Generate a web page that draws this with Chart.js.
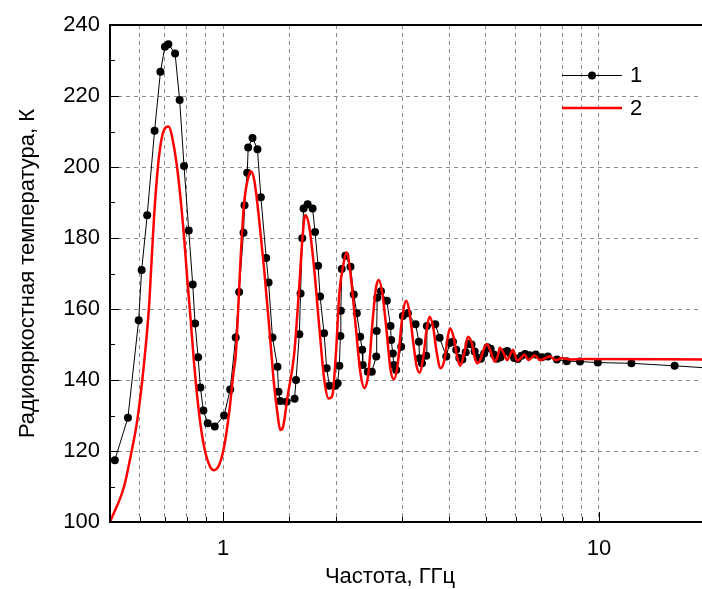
<!DOCTYPE html>
<html><head><meta charset="utf-8">
<script src="https://cdn.jsdelivr.net/npm/chart.js@4/dist/chart.umd.min.js"></script>
<style>html,body{margin:0;padding:0;background:#fff;}#wrap{width:702px;height:589px;position:relative;}</style>
</head><body><div id="wrap"><canvas id="c"></canvas></div>
<script>
// Series 1 (measured, black dots)
const freq1 = [0.515,0.558,0.596,0.607,0.628,0.657,0.681,0.700,0.715,0.745,0.766,0.787,0.810,0.830,0.842,0.858,0.870,0.886,0.910,0.950,
1.006,1.044,1.080,1.103,1.133,1.140,1.159,1.166,1.197,1.234,1.260,1.302,1.321,1.353,1.395,1.404,1.419,1.475,1.549,1.563,
1.595,1.607,1.624,1.637,1.678,1.730,1.756,1.789,1.811,1.856,1.886,1.917,1.989,2.017,2.038,2.051,2.057,2.068,2.115,2.182,
2.226,2.268,2.315,2.344,2.352,2.426,2.486,2.555,2.562,2.570,2.630,2.726,2.788,2.800,2.828,2.845,2.887,2.977,3.007,3.101,
3.251,3.318,3.330,3.380,3.471,3.484,3.668,3.767,3.925,4.006,4.088,4.17,4.25,4.33,4.42,4.50,4.58,4.67,4.76,4.85,
4.95,5.05,5.15,5.25,5.36,5.47,5.58,5.70,5.82,5.95,6.08,6.22,6.36,6.54,6.79,7.05,7.31,7.73,8.21,8.90,
9.93,12.2,15.9,20];
const temp1 = [117.4,129.4,156.8,171.0,186.4,210.2,226.8,233.9,234.6,232.0,218.9,200.3,182.1,166.9,155.9,146.4,137.9,131.4,127.8,126.9,
130.0,137.3,152.0,164.8,181.5,189.2,198.4,205.5,208.2,205.0,191.5,174.4,167.5,152.0,143.7,136.7,134.1,133.9,134.7,140.0,
152.9,164.4,179.9,188.3,189.5,188.3,181.7,172.2,163.5,153.2,143.3,138.4,138.4,139.1,144.0,152.4,159.5,171.3,175.0,171.9,
164.1,158.8,152.2,148.5,144.2,142.3,142.3,146.6,153.8,163.2,165.0,162.3,155.2,151.3,147.5,144.2,142.8,149.4,158.0,158.8,
155.7,150.8,146.1,144.7,146.8,155.2,155.7,151.9,146.6,150.4,150.8,148.5,146.2,145.8,147.8,150.2,150.0,148.0,146.3,146.0,
147.5,149.2,148.8,147.2,146.0,146.4,147.8,148.2,147.3,146.2,145.9,146.8,147.3,147.0,147.2,146.4,146.6,145.8,145.3,145.2,
144.9,144.7,144.0,143.3];

// Series 2 (calculated, red line)
const freq2 = [0.5,0.545,0.567,0.591,0.616,0.635,0.641,0.655,0.675,0.696,0.715,0.740,0.763,0.787,0.803,0.817,0.837,0.863,0.890,0.923,
0.946,0.976,1.006,1.037,1.065,1.081,1.115,1.137,1.168,1.186,1.210,1.247,1.286,1.326,1.368,1.395,1.419,1.445,1.484,1.546,
1.594,1.627,1.654,1.695,1.748,1.802,1.859,1.907,1.951,1.996,2.038,2.089,2.131,2.182,2.249,2.319,2.377,2.436,2.496,2.551,
2.595,2.655,2.721,2.788,2.845,2.911,2.984,3.071,3.133,3.211,3.270,3.331,3.414,3.477,3.542,3.619,3.698,3.790,3.886,3.958,
4.018,4.105,4.195,4.272,4.379,4.482,4.585,4.670,4.737,4.845,4.951,5.036,5.152,5.281,5.380,5.445,5.581,5.695,5.790,5.908,
6.055,6.194,6.349,6.479,6.607,6.751,6.961,7.397,7.675,7.968,8.369,9.178,20];
const temp2 = [100,110,118.4,128.7,144.7,160.6,168.2,186.0,202.9,210.4,211.4,205.7,195.4,180.4,168.2,158.8,144.7,130.6,121.2,115.6,
114.6,116.1,121.2,130.6,141.9,147.5,175.7,189.8,197.3,198.7,196.3,185.1,171.0,155.0,138.1,130.6,125.9,127.0,135.3,147.5,
166.3,180.4,186.5,183.2,171.0,155.0,140.0,134.8,135.5,147.5,164.4,172.5,176.0,170,156,142,137.7,142,156,166,
168.2,164,154,143,140.2,144,156,162.3,159,150,144,142.1,147,154,157.8,155,148,143.3,146,152,
154.6,152,146.5,144.0,147.5,152.2,150.5,146.5,144.7,146,149,150.1,148,145.2,146.8,149.1,147.5,145.6,146.8,148.5,
145.4,146.2,147.2,145.6,146.2,147.0,145.6,146.6,145.6,146.2,145.8,145.9,145.8];

const seriesNames = ['1', '2'];
const xLabelValues = [1, 10];
const yMin = 100, yMax = 240, yStep = 20, yMinorStep = 10;
const xMin = 0.5, xMax = 18.8;
const xTitle = 'Частота, ГГц';
const yTitle = 'Радиояркостная температура, К';

const FONT = "'Liberation Sans', Arial, sans-serif";

const pts = (xs, ys) => xs.map((v, i) => ({x: v, y: ys[i]}));

const decor = {
  id: 'decor',
  afterDraw(chart) {
    const {ctx, chartArea: a, scales: {x, y}} = chart;
    ctx.save();
    ctx.strokeStyle = '#000';
    ctx.lineWidth = 1;
    ctx.beginPath();
    for (let v = yMin + yMinorStep; v < yMax; v += yMinorStep) {
      const py = Math.round(y.getPixelForValue(v)) + 0.5;
      const len = (v % yStep === 0) ? 9 : 5;
      ctx.moveTo(a.left, py); ctx.lineTo(a.left + len, py);
    }
    x.ticks.forEach(t => {
      if (t.value > xMin && t.value <= 10) {
        const px = Math.round(x.getPixelForValue(t.value)) + 0.5;
        const len = xLabelValues.includes(t.value) ? 10 : 5;
        ctx.moveTo(px, a.bottom); ctx.lineTo(px, a.bottom - len);
      }
    });
    ctx.stroke();
    ctx.lineWidth = 2;
    ctx.beginPath();
    ctx.moveTo(a.right, a.bottom); ctx.lineTo(a.left, a.bottom); ctx.lineTo(a.left, a.top); ctx.lineTo(a.right, a.top);
    ctx.stroke();

    // legend
    const lx = 562, ly1 = a.top + 50, ly2 = a.top + 83;
    ctx.lineWidth = 1; ctx.strokeStyle = '#000';
    ctx.beginPath(); ctx.moveTo(lx, ly1 + 0.5); ctx.lineTo(lx + 60, ly1 + 0.5); ctx.stroke();
    ctx.fillStyle = '#000';
    ctx.beginPath(); ctx.arc(lx + 30, ly1 + 0.5, 4, 0, Math.PI * 2); ctx.fill();
    ctx.lineWidth = 2.5; ctx.strokeStyle = '#ff0000';
    ctx.beginPath(); ctx.moveTo(lx, ly2); ctx.lineTo(lx + 60, ly2); ctx.stroke();
    ctx.font = '22px ' + FONT; ctx.textBaseline = 'middle'; ctx.textAlign = 'left';
    ctx.fillText(seriesNames[0], lx + 68, ly1 + 1);
    ctx.fillText(seriesNames[1], lx + 68, ly2 + 1);

    // x title
    ctx.textAlign = 'center';
    ctx.fillText(xTitle, 390, a.bottom + 55);
    ctx.restore();
  }
};

new Chart(document.getElementById('c'), {
  type: 'line',
  data: {
    datasets: [
      {label: seriesNames[0], data: pts(freq1, temp1), borderColor: '#000', backgroundColor: '#000',
       borderWidth: 1, pointRadius: 4, pointBorderWidth: 0, pointBackgroundColor: '#000', tension: 0, order: 2},
      {label: seriesNames[1], data: pts(freq2, temp2), borderColor: '#ff0000', borderWidth: 2.5,
       pointRadius: 0, cubicInterpolationMode: 'monotone', order: 1}
    ]
  },
  options: {
    responsive: true, maintainAspectRatio: false, animation: false, devicePixelRatio: 1,
    layout: {autoPadding: false, padding: {top: 25, right: 0, left: 0, bottom: 0}},
    plugins: {legend: {display: false}, tooltip: {enabled: false}},
    scales: {
      x: {
        type: 'logarithmic', min: xMin, max: xMax, position: 'bottom',
        afterFit: s => { s.height = 67; s.paddingRight = 0; s.paddingLeft = 0; },
        ticks: {autoSkip: false, maxRotation: 0, color: '#000', padding: 14,
                font: {family: FONT, size: 22},
                callback: v => xLabelValues.includes(v) ? String(v) : ''},
        grid: {drawTicks: false, lineWidth: 1,
               color: c => (c.tick && c.tick.value > xMin && c.tick.value <= 10) ? '#8c8c8c' : 'rgba(0,0,0,0)'},
        border: {display: false, dash: [4, 4]}
      },
      y: {
        min: yMin, max: yMax,
        afterFit: s => { s.width = 110; s.paddingTop = 0; s.paddingBottom = 0; },
        ticks: {stepSize: yStep, color: '#000', padding: 10, font: {family: FONT, size: 22}},
        grid: {drawTicks: false, lineWidth: 1,
               color: c => (c.tick && c.tick.value > yMin && c.tick.value < yMax) ? '#8c8c8c' : 'rgba(0,0,0,0)'},
        border: {display: false, dash: [4, 4]},
        title: {display: true, text: yTitle, color: '#000', font: {family: FONT, size: 22}, padding: {top: 15, bottom: 0}}
      }
    }
  },
  plugins: [decor]
});
</script>
</body></html>
